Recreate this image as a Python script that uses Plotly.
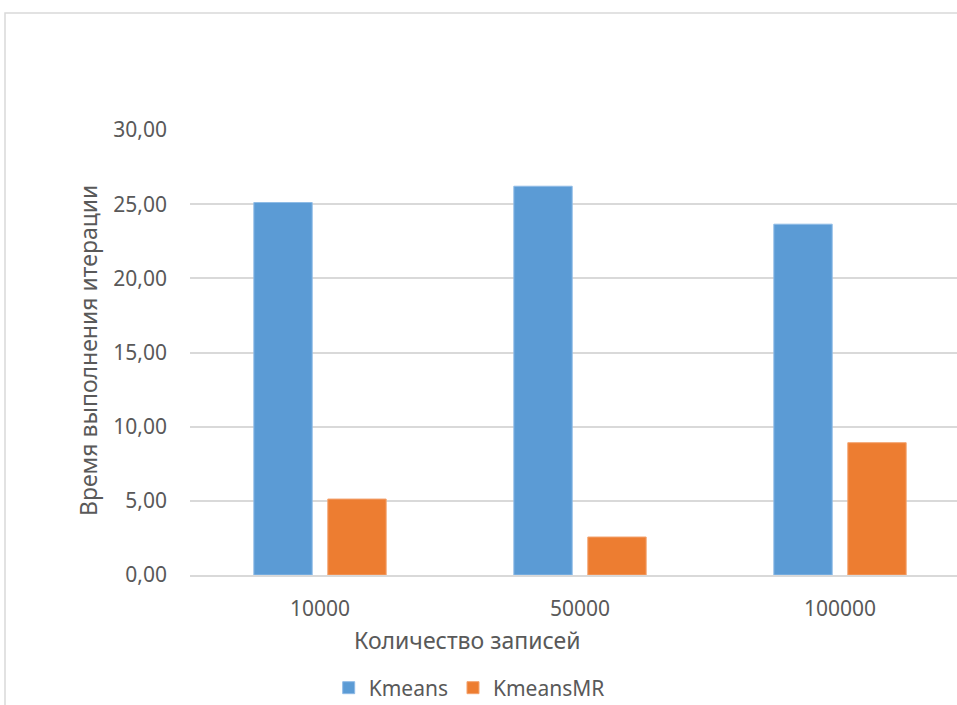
import plotly.graph_objects as go

# Число записей в выборке
categories = ["10000", "50000", "100000"]
# Время выполнения одной итерации
kmeans = [25.11, 26.21, 23.65]
kmeans_mr = [5.12, 2.56, 8.92]
y_ticks = [0, 5, 10, 15, 20, 25, 30]

FONT = "Noto Sans"
TEXT = "#595959"
GRID = "#d9d9d9"

fig = go.Figure()
fig.add_trace(go.Bar(
    name="Kmeans", x=categories, y=kmeans,
    marker=dict(color="#5B9BD5", line=dict(color="#8fbbe6", width=1)),
))
fig.add_trace(go.Bar(
    name="KmeansMR", x=categories, y=kmeans_mr,
    marker=dict(color="#ED7D31", line=dict(color="#f3a36f", width=1)),
))

fig.update_layout(
    width=957, height=705,
    margin=dict(l=190, r=0, t=130, b=130, autoexpand=False),
    paper_bgcolor="white", plot_bgcolor="white",
    font=dict(family=FONT, size=21, color=TEXT),
    separators=", ",
    barmode="group", bargap=0.431, bargroupgap=0.211,
    showlegend=True,
    legend=dict(
        orientation="h", xanchor="center", yanchor="middle",
        x=0.364, y=-0.254, font=dict(size=21, color=TEXT),
        itemwidth=30, traceorder="normal",
    ),
    xaxis=dict(
        type="category", range=[-0.5, 2.45],
        showgrid=False, showline=True, linecolor=GRID, linewidth=1.5,
        ticks="", ticklabelstandoff=14,
    ),
    yaxis=dict(
        range=[0, 30], tickvals=y_ticks, tickformat=".2f",
        showgrid=True, gridcolor=GRID, gridwidth=1.5,
        zeroline=False, showline=False, ticks="", ticklabelstandoff=22,
    ),
    annotations=[
        dict(text="Количество записей", xref="paper", yref="paper",
             x=0.3618, y=-0.146, xanchor="center", yanchor="middle",
             showarrow=False, font=dict(size=23, color=TEXT)),
        dict(text="Время выполнения итерации", xref="paper", yref="paper",
             x=-0.133, y=0.5056, xanchor="center", yanchor="middle",
             textangle=-90, showarrow=False, font=dict(size=23, color=TEXT)),
    ],
    shapes=[dict(
        type="rect", xref="paper", yref="paper",
        x0=-0.2412, x1=1.02, y0=-0.32, y1=1.263,
        line=dict(color=GRID, width=1.5), fillcolor="rgba(0,0,0,0)", layer="below",
    )],
)

fig.write_html("out.html")
